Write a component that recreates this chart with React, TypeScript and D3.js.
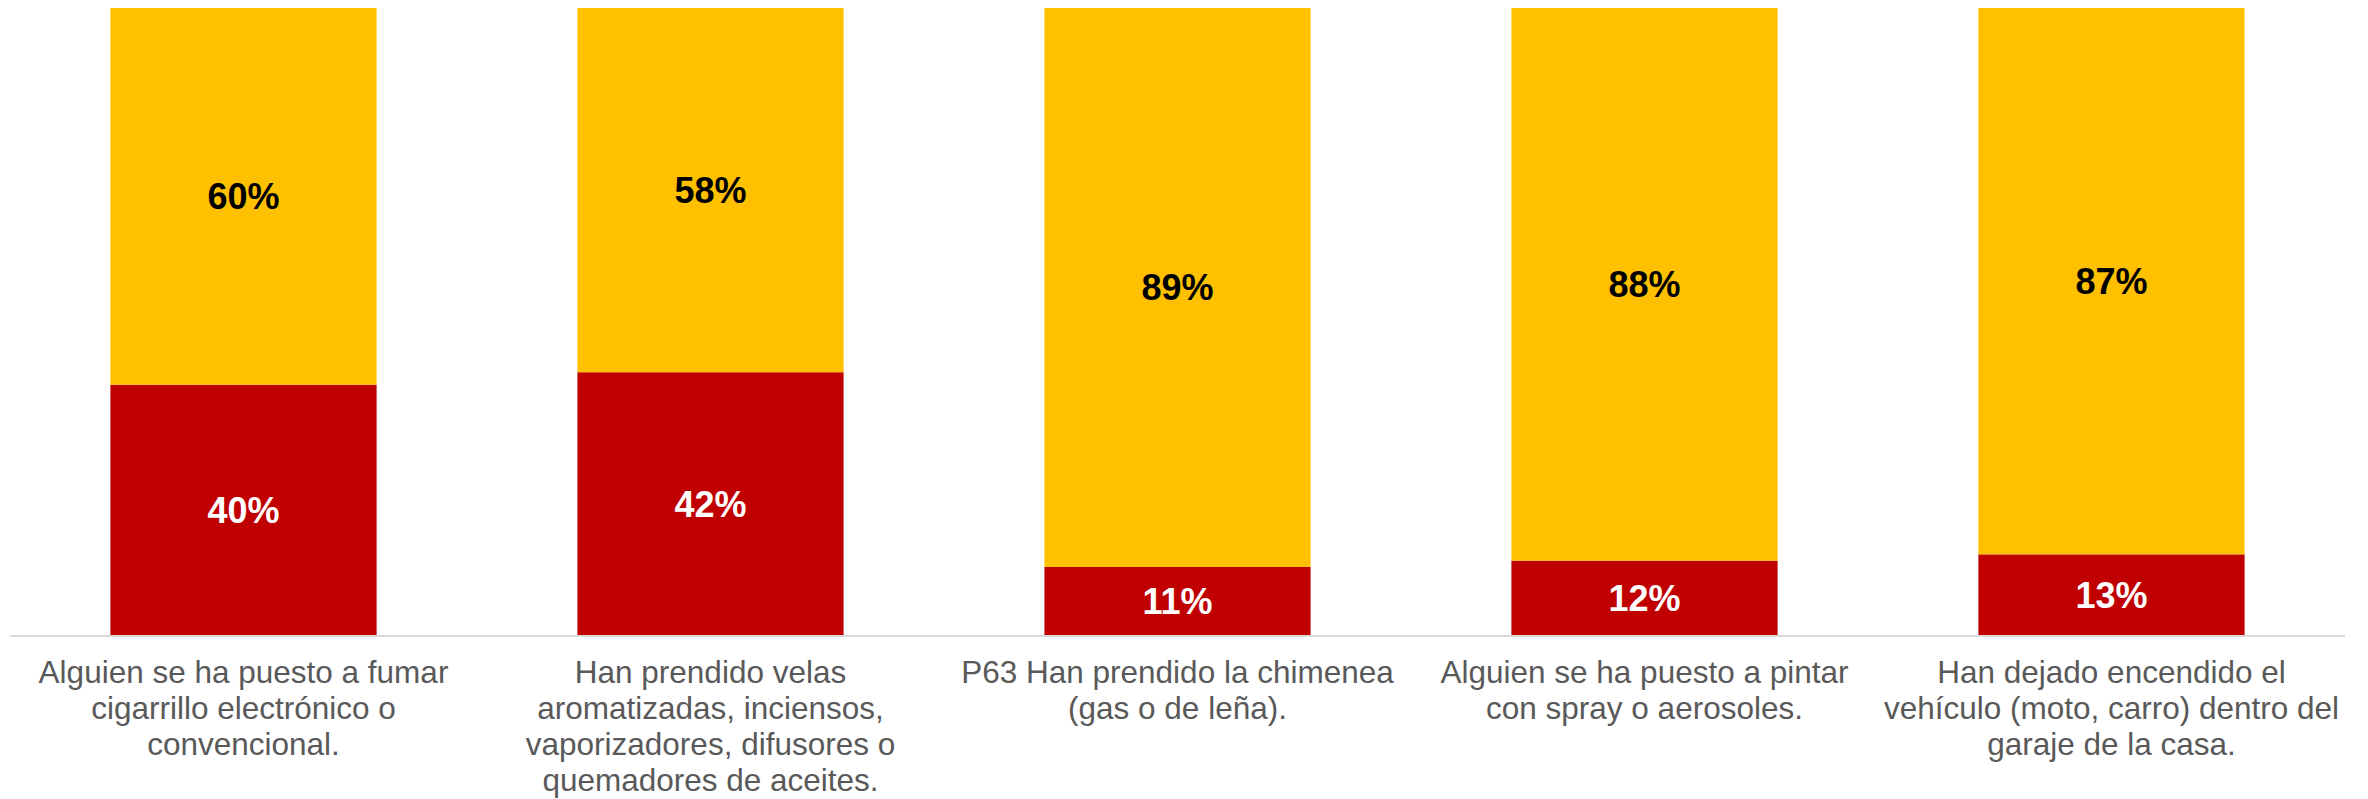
import React from "react";
import * as d3 from "d3";

const categories: string[][] = [
  ["Alguien se ha puesto a fumar", "cigarrillo electrónico o", "convencional."],
  ["Han prendido velas", "aromatizadas, inciensos,", "vaporizadores, difusores o", "quemadores de aceites."],
  ["P63 Han prendido la chimenea", "(gas o de leña)."],
  ["Alguien se ha puesto a pintar", "con spray o aerosoles."],
  ["Han dejado encendido el", "vehículo (moto, carro) dentro del", "garaje de la casa."],
];
const redValues: number[] = [40, 42, 11, 12, 13];
const yellowValues: number[] = [60, 58, 89, 88, 87];

const W = 2368;
const H = 799;
const FONT = "'Liberation Sans', Arial, Helvetica, sans-serif";

export default function App() {
  const keys = categories.map((_, i) => String(i));
  const x = d3
    .scaleBand<string>()
    .domain(keys)
    .range([10, 2345])
    .paddingInner(0.43)
    .paddingOuter(0.215);
  const y = d3.scaleLinear().domain([0, 100]).range([636, 8]);

  const rows = keys.map((k, i) => ({ key: k, red: redValues[i], yellow: yellowValues[i] }));
  const stack = d3.stack<any>().keys(["red", "yellow"])(rows);
  const colors: Record<string, string> = { red: "#C00000", yellow: "#FFC000" };
  const labelColors: Record<string, string> = { red: "#FFFFFF", yellow: "#000000" };

  return (
    <svg
      width={W}
      height={H}
      style={{ position: "absolute", left: 0, top: 0, display: "block", background: "#fff" }}
    >
      {stack.map((series) => (
        <g key={series.key}>
          {series.map((d, i) => {
            const x0 = x(keys[i])!;
            const yTop = y(d[1]);
            const yBot = y(d[0]);
            return (
              <g key={i}>
                <rect x={x0} y={yTop} width={x.bandwidth()} height={yBot - yTop} fill={colors[series.key]} />
                <text
                  x={x0 + x.bandwidth() / 2}
                  y={(yTop + yBot) / 2 + 13}
                  textAnchor="middle"
                  fontFamily={FONT}
                  fontWeight="bold"
                  fontSize={36}
                  fill={labelColors[series.key]}
                >
                  {`${d[1] - d[0]}%`}
                </text>
              </g>
            );
          })}
        </g>
      ))}
      <line x1={10} x2={2345} y1={y(0)} y2={y(0)} stroke="#D9D9D9" strokeWidth={2} />
      {categories.map((lines, i) => (
        <text
          key={i}
          x={x(keys[i])! + x.bandwidth() / 2}
          y={683}
          textAnchor="middle"
          fontFamily={FONT}
          fontSize={31.5}
          fill="#595959"
        >
          {lines.map((ln, j) => (
            <tspan key={j} x={x(keys[i])! + x.bandwidth() / 2} y={683 + j * 36}>
              {ln}
            </tspan>
          ))}
        </text>
      ))}
    </svg>
  );
}
